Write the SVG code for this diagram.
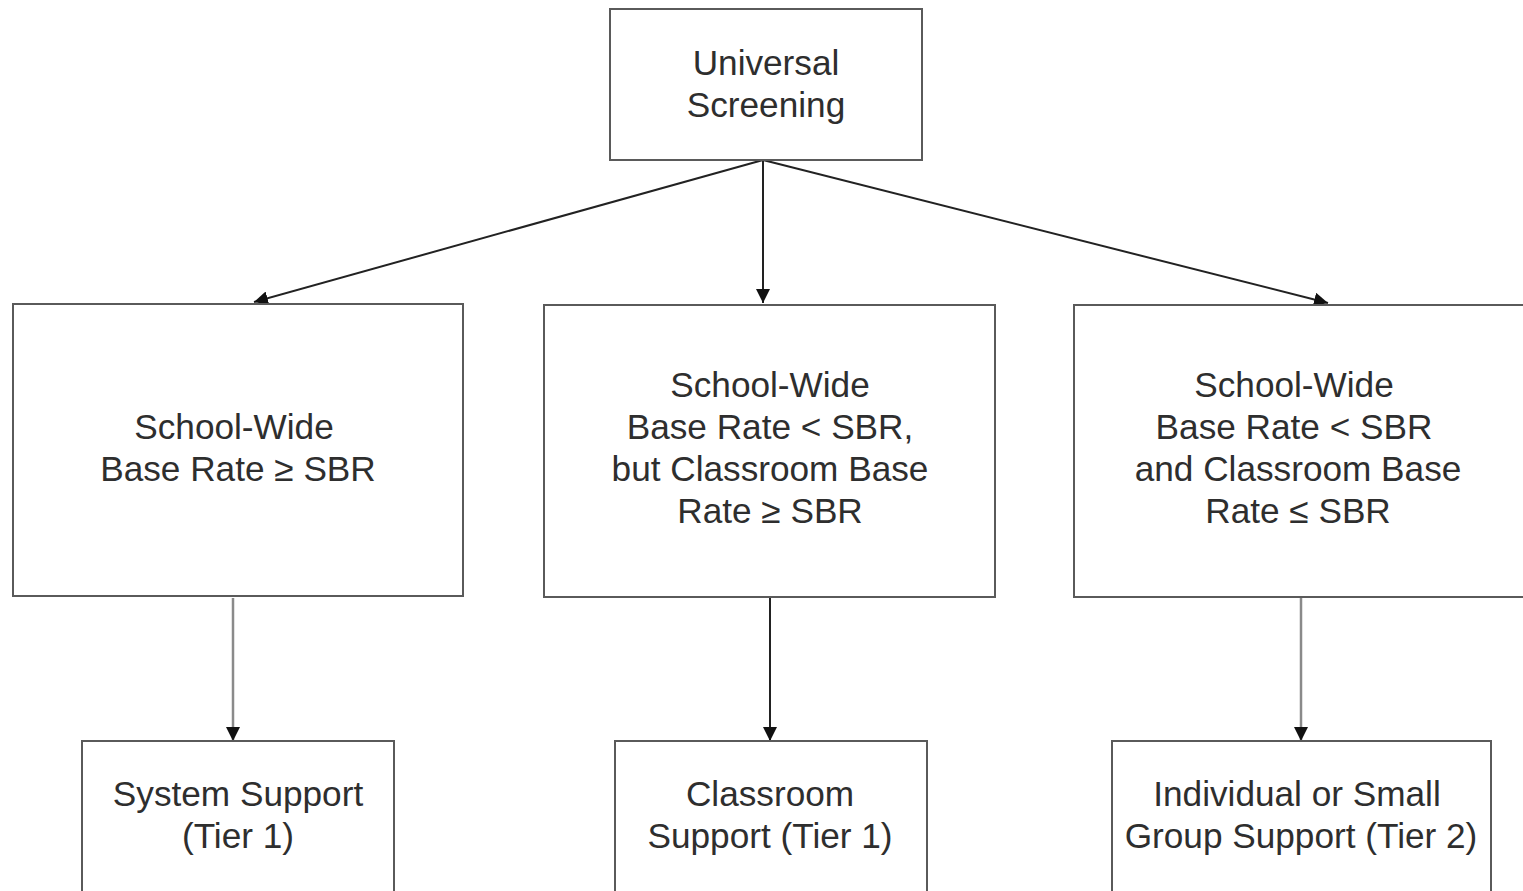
<svg xmlns="http://www.w3.org/2000/svg" width="1523" height="891" viewBox="0 0 1523 891">
<style>
.box{fill:#fff;stroke:#5a5a5a;stroke-width:2}
.t{font-family:"Liberation Sans",Arial,sans-serif;font-size:35.2px;fill:#2e2e2e;text-anchor:middle}
.c{stroke:#222;stroke-width:2;fill:none}
.g{stroke:#8a8a8a;stroke-width:2.5;fill:none}
</style>
<defs>
<marker id="ah2" viewBox="0 0 10 10" refX="10" refY="5" markerWidth="14" markerHeight="14" markerUnits="userSpaceOnUse" orient="auto">
<path d="M0,0 L10,5 L0,10 z" fill="#111"/>
</marker>
</defs>
<rect width="1523" height="891" fill="#fff"/>
<g id="connectors">
<line class="c" x1="763" y1="160" x2="254" y2="302" marker-end="url(#ah2)"/>
<line class="c" x1="763" y1="160" x2="763" y2="303" marker-end="url(#ah2)"/>
<line class="c" x1="763" y1="160" x2="1328" y2="303" marker-end="url(#ah2)"/>
<line class="g" x1="233" y1="598" x2="233" y2="741" marker-end="url(#ah2)"/>
<line class="c" x1="770" y1="598" x2="770" y2="741" marker-end="url(#ah2)"/>
<line class="g" x1="1301" y1="598" x2="1301" y2="741" marker-end="url(#ah2)"/>
</g>
<g id="universal">
<rect class="box" x="610" y="9" width="312" height="151"/>
<text class="t" x="766" y="75">Universal</text>
<text class="t" x="766" y="117">Screening</text>
</g>
<g id="school-high">
<rect class="box" x="13" y="304" width="450" height="292"/>
<text class="t" x="234" y="439">School-Wide</text>
<text class="t" x="238" y="481">Base Rate ≥ SBR</text>
</g>
<g id="classroom-high">
<rect class="box" x="544" y="305" width="451" height="292"/>
<text class="t" x="770" y="397">School-Wide</text>
<text class="t" x="770" y="439">Base Rate &lt; SBR,</text>
<text class="t" x="770" y="481">but Classroom Base</text>
<text class="t" x="770" y="523">Rate ≥ SBR</text>
</g>
<g id="classroom-low">
<rect class="box" x="1074" y="305" width="451" height="292"/>
<text class="t" x="1294" y="397">School-Wide</text>
<text class="t" x="1294" y="439">Base Rate &lt; SBR</text>
<text class="t" x="1298" y="481">and Classroom Base</text>
<text class="t" x="1298" y="523">Rate ≤ SBR</text>
</g>
<g id="system-support">
<rect class="box" x="82" y="741" width="312" height="170"/>
<text class="t" x="238" y="806">System Support</text>
<text class="t" x="238" y="848">(Tier 1)</text>
</g>
<g id="classroom-support">
<rect class="box" x="615" y="741" width="312" height="170"/>
<text class="t" x="770" y="806">Classroom</text>
<text class="t" x="770" y="848">Support (Tier 1)</text>
</g>
<g id="group-support">
<rect class="box" x="1112" y="741" width="379" height="170"/>
<text class="t" x="1297" y="806">Individual or Small</text>
<text class="t" x="1301" y="848">Group Support (Tier 2)</text>
</g>
</svg>
